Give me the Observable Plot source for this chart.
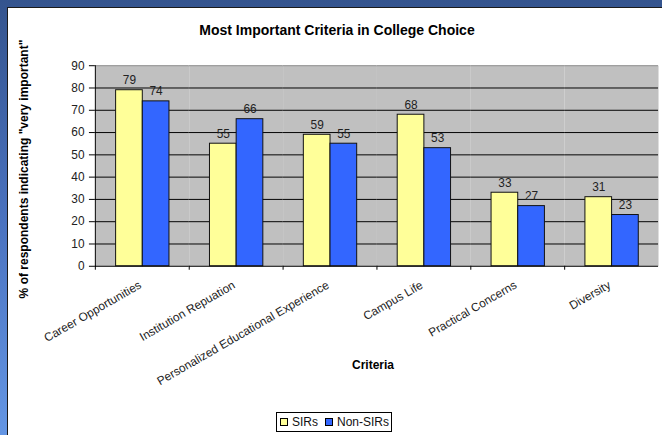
<!DOCTYPE html>
<html>
<head>
<meta charset="utf-8">
<script src="https://cdn.jsdelivr.net/npm/d3@7"></script>
<script src="https://cdn.jsdelivr.net/npm/@observablehq/plot@0.6"></script>
<style>
  html, body { margin: 0; padding: 0; width: 662px; height: 435px; overflow: hidden; }
  body { background: linear-gradient(to bottom, #34548e 0%, #4a72bf 50%, #6496e4 100%); position: relative; font-family: Arial, "Liberation Sans", sans-serif; }
  #panel { position: absolute; left: 7px; top: 7px; width: 720px; height: 470px; background: #fff; border: 1px solid #1a1a1a; }
  #chart { position: absolute; left: 0; top: 0; }
  .t { position: absolute; white-space: nowrap; color: #000; font-weight: bold; }
  #title { left: 337px; top: 30px; transform: translate(-50%, -50%); font-size: 14px; }
  #ytitle { left: 24px; top: 169px; transform: translate(-50%, -50%) rotate(-90deg); font-size: 12px; }
  #xtitle { left: 373px; top: 365px; transform: translate(-50%, -50%); font-size: 12px; }
  #legend { position: absolute; left: 276px; top: 412px; height: 20px; border: 1px solid #000; background: #fff; font-size: 12px; display: flex; align-items: center; padding: 0 2px 0 3px; box-sizing: border-box; color: #111; white-space: nowrap; }
  #legend .sw { display: inline-block; width: 6px; height: 6px; border: 1px solid #000; margin-right: 4px; }
  #legend .item { display: flex; align-items: center; margin-right: 7px; }
  #legend .item:last-child { margin-right: 0; }
</style>
</head>
<body>
<div id="panel"></div>
<div id="chart"></div>
<div class="t" id="title">Most Important Criteria in College Choice</div>
<div class="t" id="ytitle">% of respondents indicating "very important"</div>
<div class="t" id="xtitle">Criteria</div>
<div id="legend"></div>
<script>
const categories = ["Career Opportunities", "Institution Repuation", "Personalized Educational Experience", "Campus Life", "Practical Concerns", "Diversity"];
const series = ["SIRs", "Non-SIRs"];
const sirs = [79, 55, 59, 68, 33, 31];
const nonSirs = [74, 66, 55, 53, 27, 23];
const yTicks = [0, 10, 20, 30, 40, 50, 60, 70, 80, 90];
const colors = ["#FFFF99", "#3366FF"];

const data = [];
categories.forEach((c, i) => {
  data.push({criterion: c, group: series[0], value: sirs[i]});
  data.push({criterion: c, group: series[1], value: nonSirs[i]});
});

const W = 670, ML = 96, MR = 4;
const band = (W - ML - MR) / categories.length;
const font = "Arial, 'Liberation Sans', sans-serif";

const chart = Plot.plot({
  width: W,
  height: 360,
  marginLeft: ML,
  marginRight: MR,
  marginTop: 66,
  marginBottom: 91,
  style: {background: "transparent", fontFamily: font, overflow: "visible"},
  fx: {domain: categories, padding: 0},
  x: {domain: series, paddingInner: 0, paddingOuter: 0.74, axis: null},
  y: {domain: [0, 90], axis: null},
  color: {domain: series, range: colors},
  marks: [
    Plot.frame({fill: "#C0C0C0", stroke: null}),
    Plot.ruleY(yTicks.filter(v => v > 0 && v < 90), {stroke: "#000", strokeWidth: 1}),
    Plot.ruleY([90], {stroke: "#8a8a8a", strokeWidth: 1}),
    Plot.barY(data, {fx: "criterion", x: "group", y: "value", fill: "group", stroke: "#111", strokeWidth: 1}),
    Plot.text(data, {fx: "criterion", x: "group", y: "value", text: d => String(d.value), dy: -10, fontSize: 12, fill: "#222"}),
    Plot.ruleY([0], {stroke: "#000", strokeWidth: 1}),
    Plot.frame({anchor: "left", stroke: "#000", fx: () => categories[0]}),
    Plot.axisY({ticks: yTicks, tickSize: 6, tickPadding: 5, fontSize: 12, label: null, stroke: "#000", color: "#222"}),
    Plot.axisFx({anchor: "bottom", tickSize: 4, tickFormat: () => "", dx: -band / 2, label: null, stroke: "#000"}),
    Plot.axisFx({anchor: "bottom", tickSize: 0, tickRotate: -30, tickPadding: 18, dx: -2, fontSize: 12, label: null, color: "#222"})
  ]
});
document.getElementById("chart").appendChild(chart);

const legend = document.getElementById("legend");
series.forEach((s, i) => {
  const item = document.createElement("span");
  item.className = "item";
  const sw = document.createElement("span");
  sw.className = "sw";
  sw.style.background = colors[i];
  item.appendChild(sw);
  item.appendChild(document.createTextNode(s));
  legend.appendChild(item);
});
</script>
</body>
</html>
